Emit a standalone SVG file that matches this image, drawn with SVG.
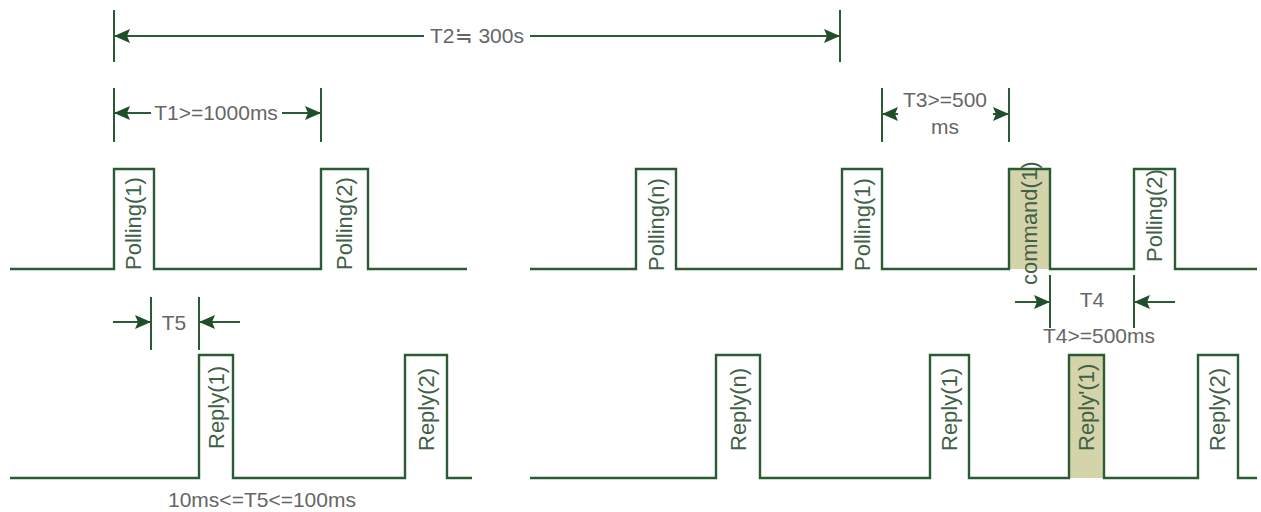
<svg xmlns="http://www.w3.org/2000/svg" width="1261" height="512" viewBox="0 0 1261 512">
<style>
.wave{fill:none;stroke:#2a5b34;stroke-width:2.4;stroke-linejoin:miter}
.dim{fill:none;stroke:#2a5b34;stroke-width:2}
.arr{fill:none;stroke:#2a5b34;stroke-width:2;marker-end:url(#ah)}
.t{font-family:"Liberation Sans",Arial,sans-serif;font-size:21px;fill:#666}
.v{font-family:"Liberation Sans",Arial,sans-serif;font-size:22px;fill:#3f6247}
.hl{fill:#d5d3aa}
</style>
<defs>
<marker id="ah" viewBox="0 0 16 16" markerWidth="16" markerHeight="16" refX="16" refY="8" orient="auto" markerUnits="userSpaceOnUse">
<path d="M0,1 L16,8 L0,15 L3,8 z" fill="#1f4f2a"/>
</marker>
</defs>
<rect width="1261" height="512" fill="#fff"/>

<g id="highlights">
<rect class="hl" x="1009" y="169" width="41" height="100"/>
<rect class="hl" x="1069" y="355" width="35" height="123"/>
</g>

<g id="connectors">
<path class="wave" d="M10,269 H114 V169 H154 V269 H321 V169 H368 V269 H467"/>
<path class="wave" d="M10,478 H199 V355 H233 V478 H405 V355 H447 V478 H472"/>
<path class="wave" d="M530,269 H636 V169 H676 V269 H842 V169 H882 V269 H1009 V169 H1050 V269 H1134 V169 H1175 V269 H1257"/>
<path class="wave" d="M530,478 H716 V355 H760 V478 H930 V355 H969 V478 H1069 V355 H1104 V478 H1198 V355 H1238 V478 H1257"/>
<line class="dim" x1="1009" y1="169" x2="1009" y2="269"/>
<line class="dim" x1="1069" y1="355" x2="1069" y2="478"/>
</g>

<g id="dim-T2">
<line class="dim" x1="114" y1="10" x2="114" y2="62"/>
<line class="dim" x1="840" y1="10" x2="840" y2="62"/>
<line class="arr" x1="424" y1="36" x2="114" y2="36"/>
<line class="arr" x1="530" y1="36" x2="840" y2="36"/>
<text class="t" x="477" y="43" text-anchor="middle">T2≒ 300s</text>
</g>

<g id="dim-T1">
<line class="dim" x1="114" y1="88" x2="114" y2="142"/>
<line class="dim" x1="321" y1="88" x2="321" y2="142"/>
<line class="arr" x1="151" y1="113" x2="114" y2="113"/>
<line class="arr" x1="282" y1="113" x2="321" y2="113"/>
<text class="t" x="216" y="120" text-anchor="middle">T1&gt;=1000ms</text>
</g>

<g id="dim-T3">
<line class="dim" x1="882" y1="88" x2="882" y2="142"/>
<line class="dim" x1="1009" y1="88" x2="1009" y2="142"/>
<line class="arr" x1="898" y1="114" x2="882" y2="114"/>
<line class="arr" x1="993" y1="114" x2="1009" y2="114"/>
<text class="t" x="945" y="107" text-anchor="middle">T3&gt;=500</text>
<text class="t" x="945" y="134" text-anchor="middle">ms</text>
</g>

<g id="dim-T4">
<line class="dim" x1="1050" y1="275" x2="1050" y2="328"/>
<line class="dim" x1="1134" y1="275" x2="1134" y2="328"/>
<line class="arr" x1="1015" y1="302" x2="1050" y2="302"/>
<line class="arr" x1="1175" y1="302" x2="1134" y2="302"/>
<text class="t" x="1092" y="307" text-anchor="middle">T4</text>
<text class="t" x="1099" y="343" text-anchor="middle">T4&gt;=500ms</text>
</g>

<g id="dim-T5">
<line class="dim" x1="151" y1="297" x2="151" y2="350"/>
<line class="dim" x1="199" y1="297" x2="199" y2="350"/>
<line class="arr" x1="113" y1="322" x2="151" y2="322"/>
<line class="arr" x1="240" y1="322" x2="199" y2="322"/>
<text class="t" x="174" y="330" text-anchor="middle">T5</text>
<text class="t" x="262" y="507" text-anchor="middle">10ms&lt;=T5&lt;=100ms</text>
</g>

<g id="polling1-a"><text class="v" transform="translate(141,270) rotate(-90)">Polling(1)</text></g>
<g id="polling2-a"><text class="v" transform="translate(352,270) rotate(-90)">Polling(2)</text></g>
<g id="reply1-a"><text class="v" transform="translate(224,449) rotate(-90)">Reply(1)</text></g>
<g id="reply2-a"><text class="v" transform="translate(434,451) rotate(-90)">Reply(2)</text></g>
<g id="pollingn-b"><text class="v" transform="translate(664,271) rotate(-90)">Polling(n)</text></g>
<g id="polling1-b"><text class="v" transform="translate(870,271) rotate(-90)">Polling(1)</text></g>
<g id="command1-b"><text class="v" transform="translate(1037,285) rotate(-90)">command(1)</text></g>
<g id="polling2-b"><text class="v" transform="translate(1162,262) rotate(-90)">Polling(2)</text></g>
<g id="replyn-b"><text class="v" transform="translate(746,451) rotate(-90)">Reply(n)</text></g>
<g id="reply1-b"><text class="v" transform="translate(957,451) rotate(-90)">Reply(1)</text></g>
<g id="reply1p-b"><text class="v" transform="translate(1094,451) rotate(-90)">Reply'(1)</text></g>
<g id="reply2-b"><text class="v" transform="translate(1225,451) rotate(-90)">Reply(2)</text></g>
</svg>
